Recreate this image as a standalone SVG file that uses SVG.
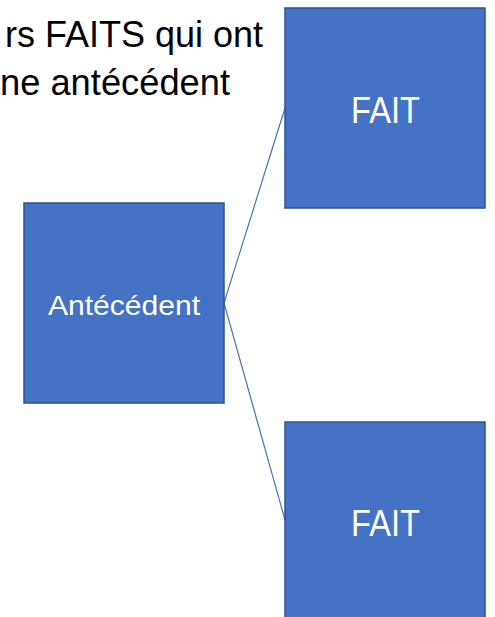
<svg xmlns="http://www.w3.org/2000/svg" width="495" height="617" viewBox="0 0 495 617">
<style>
.box{fill:#4472C4;stroke:#2F528F;stroke-width:1.5}
.lbl{fill:#FFFFFF;font-family:"Liberation Sans",Arial,sans-serif}
.title{fill:#000000;font-family:"Liberation Sans",Arial,sans-serif;font-size:36px}
.conn{stroke:#4472C4;stroke-width:1.2;fill:none}
</style>
<rect width="495" height="617" fill="#FFFFFF"/>
<g id="title">
<text class="title" x="5" y="47" textLength="258" lengthAdjust="spacingAndGlyphs">rs FAITS qui ont</text>
<text class="title" x="0" y="95" textLength="230" lengthAdjust="spacingAndGlyphs">ne antécédent</text>
</g>
<g id="connectors">
<line class="conn" x1="224" y1="303" x2="285" y2="108"/>
<line class="conn" x1="224" y1="303" x2="285" y2="520"/>
</g>
<g id="antecedent">
<rect class="box" x="24" y="203" width="200" height="200"/>
<text class="lbl" x="124" y="315" font-size="28" text-anchor="middle" textLength="152" lengthAdjust="spacingAndGlyphs">Antécédent</text>
</g>
<g id="fait1">
<rect class="box" x="285" y="8" width="200" height="200"/>
<text class="lbl" x="385.5" y="123" font-size="36" text-anchor="middle" textLength="69" lengthAdjust="spacingAndGlyphs">FAIT</text>
</g>
<g id="fait2">
<rect class="box" x="285" y="422" width="200" height="200"/>
<text class="lbl" x="385.5" y="536" font-size="36" text-anchor="middle" textLength="69" lengthAdjust="spacingAndGlyphs">FAIT</text>
</g>
</svg>
